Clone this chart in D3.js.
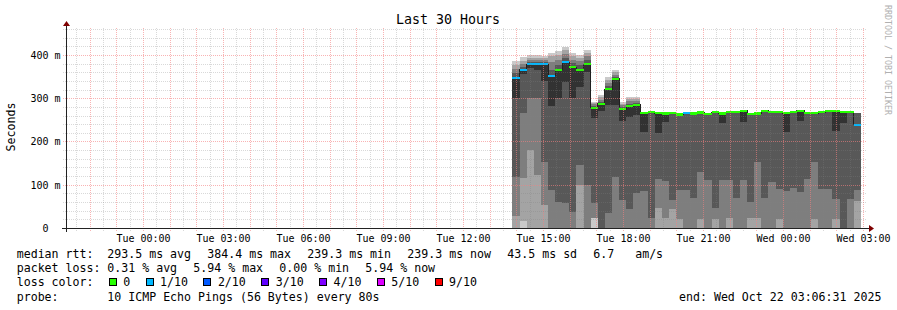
<!DOCTYPE html>
<html>
<head>
<meta charset="utf-8">
<script src="https://cdn.jsdelivr.net/npm/d3@7"></script>
<style>
body { margin: 0; background: #fff; }
text { font-family: "DejaVu Sans Mono", monospace; white-space: pre; }
</style>
</head>
<body>
<svg id="chart" width="897" height="310"></svg>
<script>
// smokeping style graph, 10 pings per step, rtt in ms
var endTime = new Date("2025-10-22T03:06:31Z");
var firstStep = new Date("2025-10-21T13:50:00Z");
var stepMinutes = 16;
var yTop = 462.4;

// sorted pings per step (ms), ping1 = fastest ... ping10 = slowest
var ping1 = [0,0,0,0,0,0,0,0,0,0,0,0,0,0,0,0,0,0,0,0,0,0,0,0,0,0,0,0,0,0,0,0,0,0,0,0,0,0,0,0,0,0,0,0,0,0,0,0,0];
var ping2 = [0,17,0,0,0,0,0,0,0,0,0,24,0,0,0,0,0,0,0,0,0,0,0,0,0,0,0,0,0,0,0,0,0,0,0,0,0,0,0,0,0,0,0,0,0,0,0,0,0];
var ping3 = [29,117,182,124,54,0,0,0,0,101,0,24,0,0,0,0,0,0,0,0,47,24,45,22,0,0,22,0,22,0,24,0,0,24,24,0,0,22,0,0,0,0,22,0,0,22,0,0,64];
var ping4 = [119,267,302,302,154,89,61,59,38,147,101,59,0,36,119,66,45,82,87,24,115,110,66,89,89,71,131,112,47,112,112,71,112,61,154,71,108,91,87,94,84,115,154,91,91,68,0,68,89];
var ping5 = [302,357,371,367,341,283,302,339,302,327,362,256,271,286,286,249,258,263,223,268,221,246,266,262,266,265,267,264,268,245,268,268,247,264,265,271,268,268,222,268,249,266,266,268,271,226,245,268,238];
var ping6 = [348,367,380,380,380,353,367,384.4,373,367,380,279,288,322,346,276,283,286,267,269,267,266,267,264,267,266,268,265,269,266,269,269,272,265,266,272,269,269,267,269,272,267,267,269,272,272,269,269,239.3];
var ping7 = [360,373,385,385,385,367,378,394,383,378,390,283,292,329,350,281,288,290,267,271,268,267,268,265,267,267,269,266,271,267,271,271,273,266,267,273,271,271,268,271,273,268,268,271,273,273,271,271,268];
var ping8 = [369,380,390,390,390,385,390,404,390,387,399,288,297,336,355,286,295,295,267,271,268,267,268,265,268,267,269,266,271,267,271,271,273,266,267,273,271,271,268,271,273,268,268,271,273,273,271,271,268];
var ping9 = [378,387,394,394,394,399,401,413,399,394,406,290,304,343,362,288,299,299,268,272,269,268,269,266,268,268,269,267,272,267,272,272,274,267,268,274,272,272,269,272,274,269,269,272,274,274,272,272,268];
var ping10 = [387,397,401,401,399,406,410,420,406,401,413,293,309,350,367,293,304,304,269,272,269,268,269,266,269,268,269,267,272,268,272,272,274,267,268,274,272,272,269,272,274,269,269,272,274,274,272,272,268];
// lost pings out of 10 per step
var lost = [1,1,1,1,1,1,0,1,0,0,0,0,0,0,0,0,0,0,0,0,0,0,0,0,1,0,0,0,0,0,0,0,0,0,0,0,0,0,0,0,0,0,0,0,0,0,0,0,1];

var lossLevels = [0, 1, 2, 3, 4, 5, 9];
var lossLabels = ["0", "1/10", "2/10", "3/10", "4/10", "5/10", "9/10"];
var lossColors = ["#26ff00", "#00b8ff", "#0059ff", "#5e00ff", "#7e00ff", "#dd00ff", "#ff0000"];
var smokeColors = ["#cacaca", "#a4a4a4", "#7e7e7e", "#585858", "#323232"];

var rttLegend = ["293.5 ms avg", "384.4 ms max", "239.3 ms min", "239.3 ms now", "43.5 ms sd", "6.7   am/s"];
var lossLegend = ["0.31 % avg", "5.94 % max", "0.00 % min", "5.94 % now"];
var probeText = "10 ICMP Echo Pings (56 Bytes) every 80s";
var endText = "end: Wed Oct 22 03:06:31 2025";

var svg = d3.select("#chart");
var startTime = d3.utcHour.offset(endTime, -30);

var x = d3.scaleUtc().domain([startTime, endTime]).range([66.5, 866.5]);
var y = d3.scaleLinear().domain([0, yTop]).range([228.5, 28.5]);
function px(v) { return Math.round(v - 0.5) + 0.5; }

var pings = [ping1, ping2, ping3, ping4, ping5, ping6, ping7, ping8, ping9, ping10];
var steps = ping1.map(function(d, i) {
  return {
    t: d3.utcMinute.offset(firstStep, i * stepMinutes),
    p: pings.map(function(a) { return a[i]; }),
    loss: lost[i]
  };
});
var last = steps[steps.length - 1];
var stepsClosed = steps.concat([{t: d3.utcMinute.offset(last.t, stepMinutes), p: last.p, loss: last.loss}]);

// smoke: outer pair first, inner pairs drawn over it
var smoke = svg.append("g").attr("shape-rendering", "crispEdges");
smokeColors.forEach(function(c, k) {
  var area = d3.area()
    .x(function(d) { return x(d.t); })
    .y0(function(d) { return y(d.p[k]); })
    .y1(function(d) { return y(d.p[9 - k]); })
    .curve(d3.curveStepAfter);
  smoke.append("path").datum(stepsClosed).attr("d", area).attr("fill", c);
});

// median step line
var medLine = d3.line()
  .x(function(d) { return x(d.t); })
  .y(function(d) { return px(y(d.p[5])); })
  .curve(d3.curveStepAfter);
svg.append("path").datum(stepsClosed).attr("d", medLine)
  .attr("fill", "none").attr("stroke", "#202020").attr("stroke-width", 1)
  .attr("shape-rendering", "crispEdges");

// median band coloured by loss
svg.append("g").attr("shape-rendering", "crispEdges")
  .selectAll("rect").data(steps).enter().append("rect")
  .attr("x", function(d) { return x(d.t); })
  .attr("width", function(d) { return x(d3.utcMinute.offset(d.t, stepMinutes)) - x(d.t); })
  .attr("y", function(d) { return y(d.p[5]) - 1.25; })
  .attr("height", 2.5)
  .attr("fill", function(d) { return lossColors[lossLevels.indexOf(d.loss)]; });

// grid on top
var minorCol = "rgba(128,128,128,0.3)", majorCol = "rgba(245,128,128,0.6)";
var grid = svg.append("g").attr("shape-rendering", "crispEdges");
var minorX = d3.utcMinute.every(30).range(startTime, endTime).filter(function(t) { return t.getUTCMinutes() !== 0; });
var majorX = d3.utcHour.range(startTime, endTime);
var minorY = d3.range(20, yTop, 20).filter(function(v) { return v % 100 !== 0; });
var majorY = [100, 200, 300, 400];

function vlines(list, col) {
  grid.selectAll(null).data(list).enter().append("line")
    .attr("x1", function(d) { return px(x(d)); }).attr("x2", function(d) { return px(x(d)); })
    .attr("y1", 28).attr("y2", 231)
    .attr("stroke", col).attr("stroke-dasharray", "1,1");
}
function hlines(list, col) {
  grid.selectAll(null).data(list).enter().append("line")
    .attr("y1", function(d) { return px(y(d)); }).attr("y2", function(d) { return px(y(d)); })
    .attr("x1", 63).attr("x2", 867)
    .attr("stroke", col).attr("stroke-dasharray", "1,1");
}
vlines(minorX, minorCol);
vlines(majorX, majorCol);
hlines(minorY, minorCol);
hlines(majorY, majorCol);

// axes
var axis = svg.append("g").attr("shape-rendering", "crispEdges");
axis.append("line").attr("x1", 62).attr("x2", 871).attr("y1", 228.5).attr("y2", 228.5).attr("stroke", "#222");
axis.append("line").attr("x1", 66.5).attr("x2", 66.5).attr("y1", 232).attr("y2", 24).attr("stroke", "#222");
svg.append("path").attr("d", "M869,225 L869,232 L874,228.5 Z").attr("fill", "#7f0000");
svg.append("path").attr("d", "M63,26 L70,26 L66.5,21 Z").attr("fill", "#7f0000");

svg.append("g").selectAll("text").data(d3.utcHour.every(3).range(startTime, endTime)).enter()
  .append("text")
  .attr("x", function(d) { return px(x(d)); })
  .attr("y", 242)
  .attr("text-anchor", "middle")
  .attr("font-size", "10px")
  .attr("fill", "#000")
  .text(d3.utcFormat("%a %H:%M"));

svg.append("g").selectAll("text").data([0, 100, 200, 300, 400]).enter()
  .append("text")
  .attr("x", 60.5)
  .attr("y", function(d) { return px(y(d)) + 3.6; })
  .attr("text-anchor", "end")
  .attr("font-size", "10px")
  .attr("fill", "#000")
  .text(function(d) { return d === 0 ? "0\u00a0\u00a0" : d + " m"; });

svg.append("text")
  .attr("transform", "translate(15,127) rotate(-90)")
  .attr("text-anchor", "middle")
  .attr("font-size", "11.6px")
  .text("Seconds");

svg.append("text")
  .attr("x", 448).attr("y", 24)
  .attr("text-anchor", "middle")
  .attr("font-size", "13.3px")
  .text("Last 30 Hours");

svg.append("text")
  .attr("transform", "translate(885,5) rotate(90)")
  .attr("font-size", "8.3px")
  .attr("fill", "#b0b0b0")
  .text("RRDTOOL / TOBI OETIKER");

// legend
var cw = 7, gap = 16, col0 = 16.7, col1 = 107.3;
var legend = svg.append("g").attr("font-size", "11.6px").attr("fill", "#000");
var rows = [258, 272, 286, 300.5];
legend.append("text").attr("x", col0).attr("y", rows[0]).text("median rtt:");
legend.append("text").attr("x", col0).attr("y", rows[1]).text("packet loss:");
legend.append("text").attr("x", col0).attr("y", rows[2]).text("loss color:");
legend.append("text").attr("x", col0).attr("y", rows[3]).text("probe:");

var cx = col1;
rttLegend.forEach(function(s) {
  legend.append("text").attr("x", cx).attr("y", rows[0]).text(s);
  cx += s.length * cw + gap;
});
cx = col1;
lossLegend.forEach(function(s) {
  legend.append("text").attr("x", cx).attr("y", rows[1]).text(s);
  cx += s.length * cw + gap;
});
cx = col1;
lossLabels.forEach(function(s, i) {
  legend.append("rect").attr("x", cx + 2).attr("y", 278.5).attr("width", 7).attr("height", 7)
    .attr("fill", lossColors[i]).attr("stroke", "#000").attr("stroke-width", 1)
    .attr("shape-rendering", "crispEdges");
  legend.append("text").attr("x", cx + 16).attr("y", rows[2]).text(s);
  cx += 16 + s.length * cw + 13.8;
});
legend.append("text").attr("x", col1).attr("y", rows[3]).text(probeText);
legend.append("text").attr("x", 679).attr("y", rows[3]).text(endText);
</script>
</body>
</html>
